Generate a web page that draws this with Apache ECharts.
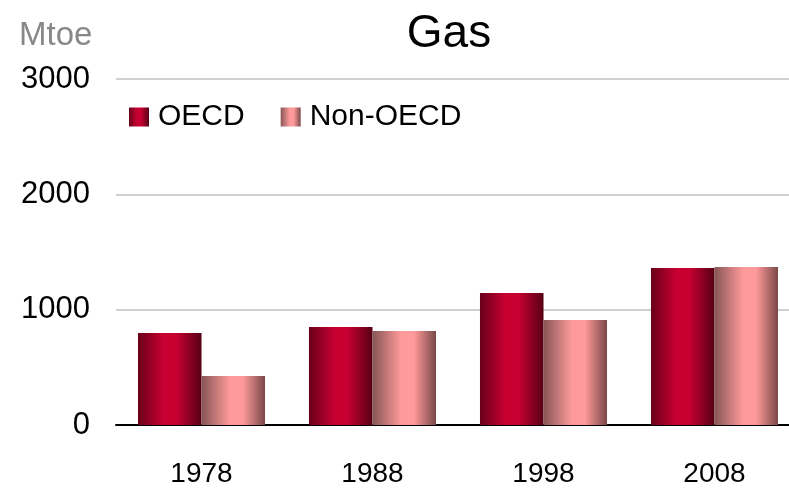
<!DOCTYPE html>
<html>
<head>
<meta charset="utf-8">
<script src="https://cdn.jsdelivr.net/npm/echarts@6/dist/echarts.min.js"></script>
<style>
    html, body { margin: 0; padding: 0; background: #fff; }
    #chart { width: 789px; height: 491px; }
</style>
</head>
<body>
<div id="chart"></div>
<script>
const years = ['1978', '1988', '1998', '2008'];
const oecd = [798, 850, 1145, 1362];
const nonOecd = [425, 815, 911, 1370];
const yTicks = { min: 0, max: 3000, interval: 1000 };

const myChart = echarts.init(document.getElementById('chart'));

// horizontal "cylinder" shading like the old Excel bars
const oecdFill = new echarts.graphic.LinearGradient(0, 0, 1, 0, [
    { offset: 0, color: '#680019' },
    { offset: 0.4, color: '#c80032' },
    { offset: 0.6, color: '#c80032' },
    { offset: 1, color: '#560014' }
]);
const nonOecdFill = new echarts.graphic.LinearGradient(0, 0, 1, 0, [
    { offset: 0, color: '#875555' },
    { offset: 0.45, color: '#ff9a9a' },
    { offset: 0.65, color: '#ff9a9a' },
    { offset: 1, color: '#7a4848' }
]);

const option = {
    backgroundColor: '#fff',
    textStyle: { fontFamily: 'Liberation Sans' },
    title: [
        {
            text: 'Gas',
            left: 444,
            top: 6,
            textAlign: 'center',
            textStyle: { fontSize: 46, fontWeight: 'normal', color: '#000', fontFamily: 'Liberation Sans' }
        },
        {
            text: 'Mtoe',
            left: 14,
            top: 14,
            textStyle: { fontSize: 33, fontWeight: 'normal', color: '#888', fontFamily: 'Liberation Sans' }
        }
    ],
    legend: {
        left: 129,
        top: 102,
        padding: 0,
        icon: 'rect',
        itemWidth: 20,
        itemHeight: 19,
        itemGap: 36,
        textStyle: { fontSize: 30, color: '#000', padding: [0, 0, 0, 4] },
        data: ['OECD', 'Non-OECD']
    },
    grid: {
        left: 116,
        right: -11,
        top: 79,
        bottom: 66,
        outerBoundsMode: 'none'
    },
    xAxis: {
        type: 'category',
        data: years,
        axisLine: { lineStyle: { color: '#000', width: 2 } },
        axisTick: { show: false },
        axisLabel: {
            color: '#000',
            fontSize: 28,
            margin: 35
        }
    },
    yAxis: {
        type: 'value',
        min: yTicks.min,
        max: yTicks.max,
        interval: yTicks.interval,
        axisLine: { show: false },
        axisTick: { show: false },
        axisLabel: { color: '#000', fontSize: 31, margin: 26, formatter: (v) => String(v) },
        splitLine: { lineStyle: { color: '#d0d0d0', width: 2 } }
    },
    series: [
        {
            name: 'OECD',
            type: 'bar',
            barGap: '0%',
            barCategoryGap: '25.7%',
            itemStyle: { color: oecdFill },
            data: oecd
        },
        {
            name: 'Non-OECD',
            type: 'bar',
            itemStyle: { color: nonOecdFill },
            data: nonOecd
        }
    ]
};

myChart.setOption(option);
</script>
</body>
</html>
